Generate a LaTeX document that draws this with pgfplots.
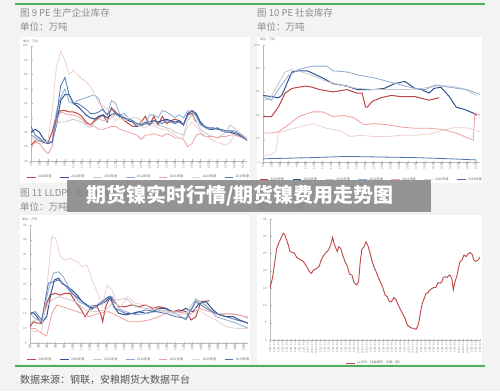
\documentclass[border=0pt]{standalone}
\usepackage{fontspec}
\setmainfont{Noto Sans CJK SC}
\usepackage{pgfplots}
\pgfplotsset{compat=1.18}
\definecolor{bg}{RGB}{243,243,243}
\definecolor{grn}{RGB}{76,175,90}
\definecolor{ttl}{RGB}{140,140,140}
\definecolor{foot}{RGB}{85,85,85}
\definecolor{cA}{RGB}{190,70,70}
\definecolor{cB}{RGB}{47,82,143}
\definecolor{cC}{RGB}{200,200,200}
\definecolor{cD}{RGB}{140,170,210}
\definecolor{cE}{RGB}{240,160,160}
\definecolor{cF}{RGB}{238,208,208}
\definecolor{cG}{RGB}{80,115,175}
\pgfplotsset{
  mini/.style={
    scale only axis, anchor=south west,
    axis x line*=bottom, axis y line*=left,
    axis line style={gray!55, line width=0.4pt},
    tick style={gray!55, line width=0.3pt},
    major tick length=1.5pt,
    tick label style={font=\fontsize{3}{3.2}\selectfont, text=gray},
    /pgf/number format/assume math mode=true,
    enlargelimits=false,
    legend style={draw=none, fill=none, font=\fontsize{3.2}{3.6}\selectfont, text=gray!80!black,
      /tikz/every even column/.append style={column sep=6pt}},
    legend image code/.code={\draw[#1, line width=0.9pt] (0,0)--(0.3cm,0);},
  },
  weeks/.style={
    xmin=1, xmax=52, xtick={1,3,...,51},
    xticklabel={\pgfmathprintnumber{\tick}周},
    xticklabel style={rotate=90, anchor=east, inner sep=0.5pt},
    legend columns=7,
  },
}
\begin{document}
\begin{tikzpicture}[x=1pt,y=1pt]
\fill[bg] (0,0) rectangle (500,391);
% green rules
\draw[grn, line width=1.4pt] (15,387) -- (485,387);
\draw[grn, line width=1.4pt] (15,25) -- (485,25);
% white panels
\fill[white] (20,208) rectangle (250,354);
\fill[white] (257,208) rectangle (482,354);
\fill[white] (20,27) rectangle (250,176);
\fill[white] (257,27) rectangle (482,176);
% titles
\node[anchor=west, inner sep=0, text=ttl, font=\fontsize{9.5}{10}\selectfont] at (20,378) {图 9 PE 生产企业库存};
\node[anchor=west, inner sep=0, text=ttl, font=\fontsize{9.5}{10}\selectfont] at (20,363.7) {单位：万吨};
\node[anchor=west, inner sep=0, text=ttl, font=\fontsize{9.5}{10}\selectfont] at (257,378) {图 10 PE 社会库存};
\node[anchor=west, inner sep=0, text=ttl, font=\fontsize{9.5}{10}\selectfont] at (257,363.7) {单位：万吨};
\node[anchor=west, inner sep=0, text=ttl, font=\fontsize{9.5}{10}\selectfont] at (20,198) {图 11 LLDPE 生产企业库存};
\node[anchor=west, inner sep=0, text=ttl, font=\fontsize{9.5}{10}\selectfont] at (20,184) {单位：万吨};
\node[anchor=west, inner sep=0, text=ttl, font=\fontsize{9.5}{10}\selectfont] at (257,184) {单位：万吨};
\node[anchor=west, inner sep=0, text=foot, font=\fontsize{10}{11}\selectfont] at (20,11) {数据来源：钢联，安粮期货大数据平台};
% small unit labels
\node[anchor=west, inner sep=0, text=gray, font=\fontsize{3}{3}\selectfont] at (23,350) {单位：万吨};
\node[anchor=west, inner sep=0, text=gray, font=\fontsize{3}{3}\selectfont] at (260,352) {单位：万吨};
\node[anchor=west, inner sep=0, text=gray, font=\fontsize{3}{3}\selectfont] at (22,172) {单位：万吨};

% ---------- Chart 1: PE production inventory ----------
\begin{axis}[mini, weeks, at={(31pt,230pt)}, width=216pt, height=115.3pt,
  ymin=20, ymax=100, ytick={20,30,...,100},
  legend style={at={(0.5,-0.139)}, anchor=center}]
\addplot[cA, line width=1pt] coordinates {(1,31)(2,34)(3,34)(4,33)(5,33)(6,40)(7,52)(8,55)(9,55)(10,54)(11,54)(12,53)(13,51)(14,47)(15,45)(16,48)(17,50)(18,52)(19,47)(20,57)(21,54)(22,51)(23,48)(24,46)(25,44)(26,44)(27,47)(28,51)(29,45)(30,51)(31,45)(32,51)(33,46)(34,48)(35,49)(36,48)(37,45)(38,52)(39,53)(40,47)};
\addlegendentry{2025年度}
\addplot[cB, line width=1pt] coordinates {(1,40)(2,42)(3,40)(4,35)(5,33)(6,33)(7,45)(8,62)(9,66)(10,66)(11,60)(12,58)(13,55)(14,52)(15,50)(16,49)(17,51)(18,52)(19,50)(20,52)(21,53)(22,51)(23,50)(24,48)(25,47)(26,44)(27,45)(28,46)(29,47)(30,48)(31,47)(32,48)(33,49)(34,48)(35,47)(36,48)(37,45)(38,53)(39,55)(40,53)(41,47)(42,44)(43,42)(44,42)(45,43)(46,41)(47,40)(48,40)(49,39)(50,38)(51,36)(52,35)};
\addlegendentry{2024年度}
\addplot[cC, line width=0.8pt] coordinates {(1,38)(2,37)(3,35)(4,33)(5,32)(6,34)(7,46)(8,47)(9,47)(10,48)(11,49)(12,48)(13,47)(14,45)(15,43)(16,47)(17,49)(18,48)(19,48)(20,50)(21,52)(22,50)(23,48)(24,49)(25,50)(26,50)(27,48)(28,45)(29,47)(30,46)(31,45)(32,44)(33,43)(34,42)(35,40)(36,39)(37,38)(38,48)(39,52)(40,48)(41,42)(42,40)(43,38)(44,37)(45,36)(46,38)(47,40)(48,45)(49,43)(50,40)(51,38)(52,36)};
\addlegendentry{2023年度}
\addplot[cD, line width=0.8pt] coordinates {(1,38)(2,36)(3,34)(4,33)(5,33)(6,34)(7,54)(8,64)(9,70)(10,61)(11,60)(12,62)(13,63)(14,64)(15,65)(16,66)(17,63)(18,55)(19,52)(20,62)(21,60)(22,52)(23,53)(24,50)(25,48)(26,46)(27,44)(28,46)(29,52)(30,52)(31,50)(32,55)(33,54)(34,52)(35,50)(36,52)(37,50)(38,55)(39,54)(40,51)(41,45)(42,43)(43,42)(44,43)(45,42)(46,41)(47,40)(48,41)(49,41)(50,40)(51,37)(52,35)};
\addlegendentry{2022年度}
\addplot[cE, line width=0.8pt] coordinates {(1,30)(2,33)(3,32)(4,28)(5,25)(6,30)(7,48)(8,54)(9,53)(10,52)(11,52)(12,51)(13,49)(14,46)(15,45)(16,44)(17,42)(18,42)(19,43)(20,44)(21,44)(22,42)(23,41)(24,40)(25,39)(26,38)(27,35)(28,38)(29,38)(30,39)(31,38)(32,37)(33,39)(34,38)(35,36)(36,36)(37,35)(38,30)(39,32)(40,38)(41,39)(42,37)(43,37)(44,37)(45,36)(46,37)(47,37)(48,38)(49,38)(50,37)(51,36)(52,35)};
\addlegendentry{2021年度}
\addplot[cF, line width=0.8pt] coordinates {(1,36)(2,35)(3,33)(4,32)(5,34)(6,55)(7,85)(8,96)(9,90)(10,80)(11,83)(12,80)(13,77)(14,75)(15,72)(16,66)(17,60)(18,58)(19,56)(20,53)(21,48)(22,50)(23,52)(24,50)(25,48)(26,45)(27,44)(28,43)(29,45)(30,44)(31,43)(32,42)(33,42)(34,40)(35,38)(36,36)(37,36)(38,44)(39,47)(40,44)(41,40)(42,38)(43,36)(44,34)(45,33)(46,32)(47,31)(48,33)(49,38)(50,40)(51,37)(52,35)};
\addlegendentry{2020年度}
\addplot[cG, line width=0.8pt] coordinates {(1,44)(2,38)(3,36)(4,33)(5,32)(6,33)(7,50)(8,72)(9,78)(10,66)(11,60)(12,60)(13,58)(14,56)(15,53)(16,53)(17,54)(18,56)(19,52)(20,56)(21,53)(22,52)(23,50)(24,49)(25,48)(26,46)(27,45)(28,47)(29,45)(30,48)(31,47)(32,46)(33,48)(34,47)(35,46)(36,47)(37,45)(38,52)(39,55)(40,52)(41,46)(42,44)(43,43)(44,43)(45,42)(46,42)(47,41)(48,41)(49,40)(50,39)(51,37)(52,34)};
\addlegendentry{2019年度}
\end{axis}

% ---------- Chart 2: PE social inventory ----------
\begin{axis}[mini, weeks, at={(263pt,228.7pt)}, width=217pt, height=117.3pt,
  ymin=0, ymax=100, ytick={0,20,...,100},
  legend style={at={(0.5,-0.15)}, anchor=center}]
\addplot[cA, line width=1pt] coordinates {(1,39)(3,39)(4.6,47)(6.2,59)(7.8,63)(11,65)(12.6,64)(14.3,62)(17.5,60)(20.7,62)(23.1,59)(24.3,59)(25.1,47)(25.5,47)(26.7,52)(28.7,55)(31.1,57)(33.5,56)(36.7,56)(40,53)(42.4,55)};
\addlegendentry{2025年度}
\addplot[cB, line width=1pt] coordinates {(1,57)(3,56)(4.6,55)(5.4,57)(6.6,67)(7.8,77)(9.4,78)(11.4,78)(12.6,76)(15,72)(17.5,67)(20.7,65)(23.1,62)(27.1,62)(29.5,63)(31.9,67)(34.3,69)(36.7,63)(38.3,62)(40,59)(41.2,63)(42.8,64)(44.8,56)(46.4,47)(48.4,45)(50.4,42)(51.2,40)};
\addlegendentry{2024年度}
\addplot[cC, line width=0.8pt] coordinates {(1,53)(2.6,54)(4.6,67)(6.2,77)(7.8,79)(10.2,77)(12.6,74)(15.9,69)(19.1,66)(23.1,63)(27.1,62)(31.1,62)(35.1,62)(38.3,63)(41.6,65)(44.8,65)(48,63)(51.2,57)};
\addlegendentry{2023年度}
\addplot[cD, line width=0.8pt] coordinates {(1,56)(3,53)(4.6,62)(7,74)(9.4,79)(12.6,82)(15.9,82)(17.5,78)(20.7,77)(23.9,74)(27.1,72)(30.3,69)(33.5,66)(36.7,63)(39.1,62)(41.6,66)(44.8,64)(48.8,62)(51.2,59)(52,58)};
\addlegendentry{2022年度}
\addplot[cE, line width=0.8pt] coordinates {(1,25)(3,25)(4.6,26)(7,32)(9.4,39)(12.6,43)(15,43)(17.5,39)(19.9,40)(22.3,38)(24.7,32)(27.1,33)(30.3,32)(33.5,30)(36.7,29)(40,29)(43.2,28)(46.4,25)(49.6,20)(50.4,19)(50.8,42)(52,40)};
\addlegendentry{2021年度}
\addplot[cF, line width=0.8pt] coordinates {(1,5)(3,7)(4,9)(4.6,25)(6.2,27)(9.4,30)(12.6,33)(15.9,29)(19.1,27)(21.5,22)(23.9,23)(27.1,22)(30.3,22)(33.5,23)(36.7,23)(40,24)(43.2,27)(46.4,30)(49.6,29)(52,26)};
\addlegendentry{2020年度}
\addplot[cG, line width=0.8pt] coordinates {(1,3)(12.6,4)(20.7,5)(28.7,4.5)(36.7,4)(44.8,3)(51.2,2)};
\addlegendentry{2019年度}
\end{axis}

% ---------- Chart 3: LLDPE production inventory ----------
\begin{axis}[mini, weeks, at={(30pt,47.7pt)}, width=218pt, height=118.3pt,
  ymin=5, ymax=45, ytick={5,10,...,45},
  legend style={at={(0.5,-0.14)}, anchor=center}]
\addplot[cA, line width=1pt] coordinates {(1,10.6)(1.8,12.3)(2.6,11.8)(3.7,11.8)(4.9,18.5)(5.7,21.3)(6.9,21.9)(8.1,21.3)(9.2,21.9)(10.4,21.9)(11.6,19.1)(12.8,16.8)(13.9,14)(15.1,16.8)(16.7,17.4)(17.5,15.1)(18,12.3)(18.7,17.4)(19.8,20.8)(20.6,19.1)(21.8,17.4)(23.4,17.4)(24.9,18)(26.5,17.4)(28.1,18)(29.6,16.8)(31.2,17.4)(32.8,16.8)(34.3,15.7)(35.9,16.3)(37.5,15.7)(38.7,12.9)(39.8,14)(41,19.1)(43,19.4)};
\addlegendentry{2025年度}
\addplot[cB, line width=1pt] coordinates {(1,15.1)(1.8,15.3)(2.6,14)(3.7,11.8)(4.9,14)(5.9,21.9)(6.7,26.4)(7.7,27)(8.5,25.3)(9.6,24.2)(10.8,23)(12,21.3)(13.2,19.1)(14.3,18)(15.5,16.8)(17.1,18)(18.7,19.1)(19.8,20.8)(20.6,17.4)(21.8,15.1)(23.4,14.6)(24.9,15.1)(26.5,15.7)(28.1,15.1)(29.6,15.7)(31.2,16.8)(32.8,16.8)(34.3,15.7)(35.9,15.7)(37.5,16.8)(39.1,15.7)(40.6,18.5)(42.2,19.1)(43.8,16.3)(45.3,14.6)(46.9,14)(48.5,14)(50,12.9)(52,11.8)};
\addlegendentry{2024年度}
\addplot[cC, line width=0.8pt] coordinates {(1,11.8)(2.2,12.9)(3.7,12.9)(4.9,17.4)(6.1,19.6)(7.7,20.8)(9.2,20.2)(11.6,19.1)(13.9,16.3)(16.3,15.7)(18.7,16.3)(21,19.6)(23.4,20.2)(25.7,17.4)(28.1,16.8)(30.4,16.3)(32.8,15.7)(35.1,15.7)(37.5,15.1)(39.8,20.2)(42.2,17.4)(44.5,15.1)(46.9,15.1)(49.3,14.6)(52,14)};
\addlegendentry{2023年度}
\addplot[cD, line width=0.8pt] coordinates {(1,15.1)(2.2,13.4)(3.7,12.3)(5.3,23)(6.5,28.7)(7.7,29.2)(8.8,27.5)(10.4,23)(12.4,19.1)(13.9,18)(15.5,16.3)(17.1,18.5)(18.7,20.2)(20.2,20.8)(21.8,16.8)(23.4,15.7)(25.7,14.6)(28.1,15.1)(30.4,15.7)(32.8,16.3)(35.1,15.1)(37.5,12.9)(39.8,19.6)(42.2,17.9)(44.5,14)(46.9,12.9)(49.3,11.8)(52,10.1)};
\addlegendentry{2022年度}
\addplot[cE, line width=0.8pt] coordinates {(1,10)(2.2,10)(3.7,8.4)(4.9,7.5)(6.1,15.1)(7.3,18)(8.5,17.4)(10.8,16.3)(13.2,15.1)(14.7,14)(17.1,15.1)(19.4,15.7)(21.8,14)(24.1,12.3)(26.5,12.3)(28.9,12.9)(31.2,14)(33.6,15.7)(35.9,15.7)(38.3,14.6)(40.6,16.8)(43,15.7)(45.3,14.6)(47.7,15.1)(50,14.6)(52,13.4)};
\addlegendentry{2021年度}
\addplot[cF, line width=0.8pt] coordinates {(1,9.5)(2.2,9)(3.7,9)(4.9,23)(6.1,41.1)(7,40.5)(8.1,34.3)(9.2,33.2)(10.4,33.7)(12,32.6)(13.2,30.9)(14.3,31.5)(15.5,26.4)(16.7,22.5)(17.9,17.4)(19,24.7)(20.2,23)(21.8,16.3)(23.8,20.8)(25.7,18.5)(28.1,18)(30.4,16.8)(32.8,15.7)(35.1,14.6)(37.5,15.1)(39.8,16.8)(42.2,14.6)(44.5,12.9)(46.9,10.6)(49.3,10)(52,10)};
\addlegendentry{2020年度}
\addplot[cG, line width=0.8pt] coordinates {(1,15.1)(2.2,15.7)(3.7,12.9)(5.3,25.3)(6.5,25.8)(7.7,26.4)(9.2,24.7)(10.8,21.9)(12.8,19.6)(14.7,17.4)(17.1,18)(19.4,20.8)(21,16.8)(23.4,15.1)(25.7,15.1)(28.1,16.3)(30.4,15.7)(32.8,15.1)(35.1,14)(37.5,13.4)(39.8,19.1)(42.2,16.8)(44.5,15.1)(46.9,14)(49.3,12.9)(52,11.8)};
\addlegendentry{2019年度}
\end{axis}

% ---------- Chart 4: LLDPE social inventory ----------
\begin{axis}[mini, at={(270pt,51pt)}, width=210pt, height=121pt,
  xmin=0, xmax=100, xtick={0,2,...,100},
  xticklabel={\pgfmathtruncatemacro{\yy}{2021+\tick/24}\pgfmathtruncatemacro{\mm}{mod(\tick/2,12)+1}\yy-\mm-01},
  xticklabel style={rotate=90, anchor=east, inner sep=0.3pt, font=\fontsize{2.6}{2.8}\selectfont},
  ymin=0, ymax=35, ytick={0,5,...,35},
  legend style={at={(0.5,-0.19)}, anchor=center}]
\addplot[cA, line width=0.9pt] coordinates {(0,14.9)(1.3,18.3)(2.4,23.1)(3.2,26.5)(4.4,28.4)(5.6,29.9)(6.3,30.9)(7.1,30.4)(7.9,28.9)(8.7,27.5)(9.5,25.6)(10.8,25.3)(11.6,25.1)(12.7,23.9)(14.3,23.3)(15.9,22.7)(17.5,21.2)(18.7,19.8)(19.8,19.3)(20.6,20.2)(22.2,20.7)(23.5,21.4)(24.1,22.7)(25.4,24.3)(26.7,25.3)(27.8,26.0)(28.9,27.5)(29.8,29.7)(30.5,28.0)(31.4,26.5)(32.1,25.6)(32.7,27.0)(33.7,26.5)(34.6,24.6)(35.7,22.7)(36.8,21.4)(37.8,19.1)(39,18.8)(40,16.6)(41.3,15.9)(42.2,16.9)(42.9,22.2)(43.7,26.2)(44.8,27.0)(45.7,28.4)(46.5,27.5)(47.6,25.3)(48.6,22.7)(49.5,21.2)(50.5,19.8)(51.6,18.1)(52.7,16.6)(53.7,15.2)(54.8,13.0)(55.9,12.5)(56.8,11.1)(57.9,11.1)(59,12.3)(60,11.6)(61.1,10.1)(62.2,8.7)(63.5,7.2)(64.3,6.3)(65.4,4.3)(66.3,3.9)(67.5,3.4)(68.3,3.4)(69.5,3.1)(70.3,3.9)(71.1,5.8)(71.7,8.2)(72.5,10.6)(73.3,11.8)(74.3,13.5)(75.2,13.7)(76.2,14.5)(77.1,14.9)(78.1,15.2)(79,15.2)(80,16.6)(81,16.4)(81.9,16.9)(82.5,18.1)(83.5,18.3)(84.4,18.1)(85.4,18.8)(86,18.5)(86.7,17.4)(87.3,14.5)(88.1,16.9)(88.9,18.3)(89.7,20.7)(90.5,22.7)(91.4,23.1)(92.4,24.6)(93.3,24.1)(94.3,24.9)(95.2,25.3)(96.2,24.9)(97.1,23.1)(98.1,22.7)(99,23.1)(100,23.9)};
\addlegendentry{LLDPE：社会库存：中国（周）}
\end{axis}

% banner
\fill[fill={rgb,255:red,135;green,135;blue,135}, opacity=0.88] (67,179) rectangle (431,211);
\node[text=white, font=\fontsize{20}{22}\selectfont\bfseries, inner sep=0] at (240,195) {期货镍实时行情/期货镍费用走势图};

\pgfresetboundingbox
\path[use as bounding box] (0,0) rectangle (500,391);
\end{tikzpicture}
\end{document}
